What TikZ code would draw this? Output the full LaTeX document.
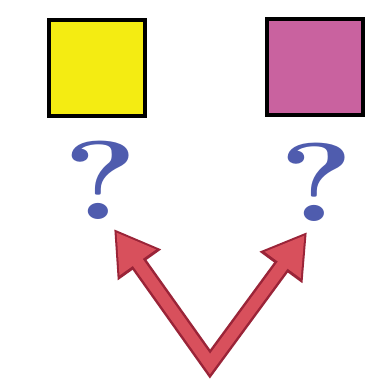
\documentclass[tikz,border=0pt]{standalone}
\usepackage{fontspec}
\usetikzlibrary{arrows.meta}
\definecolor{sqyellow}{HTML}{F4EC12}
\definecolor{sqmagenta}{HTML}{C9629F}
\definecolor{qblue}{HTML}{4F5CAE}
\definecolor{arrdark}{HTML}{9A2438}
\definecolor{arrlight}{HTML}{D8505C}
\tikzset{
  colsquare/.style={draw=black, line width=4pt, minimum size=96pt, inner sep=0pt},
  qmark/.style={text=qblue, inner sep=0pt, font=\fontsize{112}{112}\selectfont\bfseries},
  arrouter/.style={draw=arrdark, line width=17pt, line join=miter,
     {Triangle[length=44pt,width=50pt]}-{Triangle[length=44pt,width=50pt]}},
  arrinner/.style={draw=arrlight, line width=12pt, line join=miter,
     shorten <=4pt, shorten >=4pt,
     {Triangle[length=37pt,width=42pt]}-{Triangle[length=37pt,width=42pt]}}
}
\begin{document}
\begin{tikzpicture}[x=1pt,y=-1pt]
\useasboundingbox (0,0) rectangle (372,385);
\fill[white] (0,0) rectangle (372,385);
\node[colsquare, fill=sqyellow] (ys) at (96.5,68) {};
\node[colsquare, fill=sqmagenta] (ms) at (315,67) {};
\node[qmark] (ql) at (101,180) {\scalebox{1.25}[1]{?}};
\node[qmark] (qr) at (317,182) {\scalebox{1.25}[1]{?}};
\coordinate (lt) at (114,229);
\coordinate (rt) at (307,232);
\coordinate (v) at (210,364);
\draw[arrouter] (lt) -- (v) -- (rt);
\draw[arrinner] (lt) -- (v) -- (rt);
\end{tikzpicture}
\end{document}
